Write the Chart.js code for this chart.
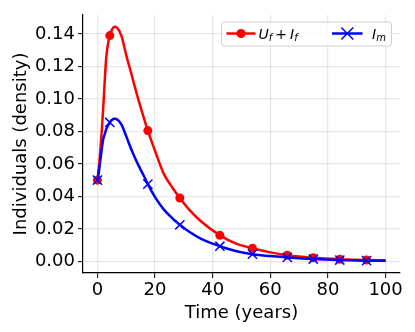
<!DOCTYPE html>
<html>
<head>
<meta charset="utf-8">
<script src="https://cdn.jsdelivr.net/npm/chart.js@4/dist/chart.umd.min.js"></script>
<style>
  html, body { margin: 0; padding: 0; background: #fff; }
  #wrap { width: 415px; height: 332px; }
</style>
</head>
<body>
<div id="wrap"><canvas id="c" width="415" height="332"></canvas></div>
<script>
// ---- Data ----
const timeYears = [0, 0.5, 1, 1.5, 2, 2.5, 3, 3.5, 4.3, 5, 6, 7, 8.4, 10, 12, 14, 16, 17.5, 20, 23, 26, 28.6, 32, 36, 42.5, 48, 53.8, 60, 65.9, 74.9, 84.1, 93.4, 100];
const ufPlusIf = [0.050, 0.058, 0.068, 0.080, 0.094, 0.110, 0.124, 0.132, 0.139, 0.1425, 0.1445, 0.1435, 0.1385, 0.127, 0.114, 0.101, 0.089, 0.0805, 0.068, 0.054, 0.0455, 0.039, 0.0315, 0.0245, 0.016, 0.011, 0.008, 0.0055, 0.0038, 0.0022, 0.0013, 0.0008, 0.0006];
const imValues = [0.050, 0.055, 0.062, 0.069, 0.075, 0.078, 0.081, 0.083, 0.0855, 0.087, 0.0878, 0.0872, 0.084, 0.077, 0.068, 0.060, 0.053, 0.0475, 0.0395, 0.032, 0.0265, 0.0225, 0.018, 0.0138, 0.0093, 0.0064, 0.0044, 0.0032, 0.0024, 0.0014, 0.0008, 0.0004, 0.0003];
const markerTimes = [0, 4.3, 17.5, 28.6, 42.5, 53.8, 65.9, 74.9, 84.1, 93.4];
const xTickValues = [0, 20, 40, 60, 80, 100];
const yTickValues = [0, 0.02, 0.04, 0.06, 0.08, 0.10, 0.12, 0.14];
const seriesLabels = ['U_f + I_f', 'I_m'];

const FONT = '"DejaVu Sans", sans-serif';
const toPoints = (ys) => timeYears.map((t, i) => ({ x: t, y: ys[i] }));
const isMarker = (ctx) => ctx.raw && markerTimes.includes(ctx.raw.x);

const legendPlugin = {
  id: 'mplLegend',
  afterDraw(chart) {
    const ctx = chart.ctx;
    ctx.save();
    const bx = 221.5, by = 22, bw = 170, bh = 24, r = 3;
    ctx.beginPath();
    ctx.moveTo(bx + r, by);
    ctx.lineTo(bx + bw - r, by); ctx.quadraticCurveTo(bx + bw, by, bx + bw, by + r);
    ctx.lineTo(bx + bw, by + bh - r); ctx.quadraticCurveTo(bx + bw, by + bh, bx + bw - r, by + bh);
    ctx.lineTo(bx + r, by + bh); ctx.quadraticCurveTo(bx, by + bh, bx, by + bh - r);
    ctx.lineTo(bx, by + r); ctx.quadraticCurveTo(bx, by, bx + r, by);
    ctx.closePath();
    ctx.fillStyle = 'rgba(255,255,255,0.8)';
    ctx.fill();
    ctx.strokeStyle = '#d0d0d0';
    ctx.lineWidth = 1;
    ctx.stroke();

    const ly = 33.5;
    ctx.strokeStyle = '#ff0000'; ctx.lineWidth = 2.5;
    ctx.beginPath(); ctx.moveTo(226.5, ly); ctx.lineTo(255.5, ly); ctx.stroke();
    ctx.fillStyle = '#ff0000';
    ctx.beginPath(); ctx.arc(241, ly, 4.5, 0, Math.PI * 2); ctx.fill();
    ctx.strokeStyle = '#0000ff'; ctx.lineWidth = 2.5;
    ctx.beginPath(); ctx.moveTo(332, ly); ctx.lineTo(362.5, ly); ctx.stroke();
    ctx.lineWidth = 1.5;
    const cx = 347.3, d = 6;
    ctx.beginPath();
    ctx.moveTo(cx - d, ly - d); ctx.lineTo(cx + d, ly + d);
    ctx.moveTo(cx - d, ly + d); ctx.lineTo(cx + d, ly - d);
    ctx.stroke();

    ctx.fillStyle = '#000';
    ctx.textBaseline = 'alphabetic';
    ctx.textAlign = 'left';
    const base = 38.8;
    const drawMath = (x, parts) => {
      for (const p of parts) {
        ctx.font = p.font;
        ctx.fillText(p.t, x, base + (p.dy || 0));
        x += ctx.measureText(p.t).width + (p.gap || 0);
      }
    };
    const [a, b] = seriesLabels;
    drawMath(258.5, [
      { t: a.charAt(0), font: 'italic 14px ' + FONT },
      { t: a.charAt(2), font: 'italic 10px ' + FONT, dy: 2.5, gap: 3 },
      { t: '+', font: '14px ' + FONT, gap: 3 },
      { t: a.charAt(6), font: 'italic 14px ' + FONT },
      { t: a.charAt(8), font: 'italic 10px ' + FONT, dy: 2.5 }
    ]);
    drawMath(372, [
      { t: b.charAt(0), font: 'italic 14px ' + FONT },
      { t: b.charAt(2), font: 'italic 10px ' + FONT, dy: 2.5 }
    ]);
    ctx.restore();
  }
};

const whiteBg = {
  id: 'whiteBg',
  beforeDraw(chart) {
    const c = chart.ctx; c.save(); c.fillStyle = '#fff';
    c.fillRect(0, 0, chart.width, chart.height); c.restore();
  }
};

new Chart(document.getElementById('c'), {
  type: 'line',
  data: {
    datasets: [
      {
        label: seriesLabels[0],
        data: toPoints(ufPlusIf),
        borderColor: '#ff0000',
        backgroundColor: '#ff0000',
        borderWidth: 2.5,
        cubicInterpolationMode: 'monotone',
        pointStyle: 'circle',
        pointRadius: (ctx) => isMarker(ctx) ? 4.5 : 0,
        pointHoverRadius: (ctx) => isMarker(ctx) ? 4.5 : 0,
        pointBorderWidth: 0,
        pointBackgroundColor: '#ff0000',
        order: 2,
        clip: false
      },
      {
        label: seriesLabels[1],
        data: toPoints(imValues),
        borderColor: '#0000ff',
        backgroundColor: '#0000ff',
        borderWidth: 2.5,
        cubicInterpolationMode: 'monotone',
        pointStyle: 'crossRot',
        pointRadius: (ctx) => isMarker(ctx) ? 6.5 : 0,
        pointHoverRadius: (ctx) => isMarker(ctx) ? 6.5 : 0,
        pointBorderWidth: 1.5,
        pointBorderColor: '#0000ff',
        order: 1,
        clip: false
      }
    ]
  },
  options: {
    responsive: false,
    animation: false,
    devicePixelRatio: 1,
    events: [],
    layout: { padding: { top: 15, right: 15, left: 0, bottom: 0 } },
    plugins: { legend: { display: false }, tooltip: { enabled: false } },
    scales: {
      x: {
        type: 'linear',
        min: -5, max: 105,
        afterBuildTicks: (s) => { s.ticks = xTickValues.map(v => ({ value: v })); },
        afterFit: (s) => { s.height = 59; },
        grid: { color: 'rgba(0,0,0,0.09)', lineWidth: 1.3, tickColor: '#000', tickLength: 5, tickWidth: 1 },
        border: { color: '#000', width: 1.2 },
        ticks: { color: '#000', font: { family: FONT, size: 18 }, padding: 2, maxRotation: 0, callback: (v) => String(v) },
        title: { display: true, text: 'Time (years)', color: '#000', font: { family: FONT, size: 18 }, padding: { top: 0, bottom: 8 } }
      },
      y: {
        type: 'linear',
        min: -0.0072, max: 0.1517,
        afterBuildTicks: (s) => { s.ticks = yTickValues.map(v => ({ value: v })); },
        afterFit: (s) => { s.width = 83; },
        grid: { color: 'rgba(0,0,0,0.09)', lineWidth: 1.3, tickColor: '#000', tickLength: 5, tickWidth: 1 },
        border: { color: '#000', width: 1.2 },
        ticks: { color: '#000', font: { family: FONT, size: 18 }, padding: 3, callback: (v) => Number(v).toFixed(2) },
        title: { display: true, text: 'Individuals (density)', color: '#000', font: { family: FONT, size: 18 }, padding: { top: 11, bottom: 0 } }
      }
    }
  },
  plugins: [whiteBg, legendPlugin]
});
</script>
</body>
</html>
